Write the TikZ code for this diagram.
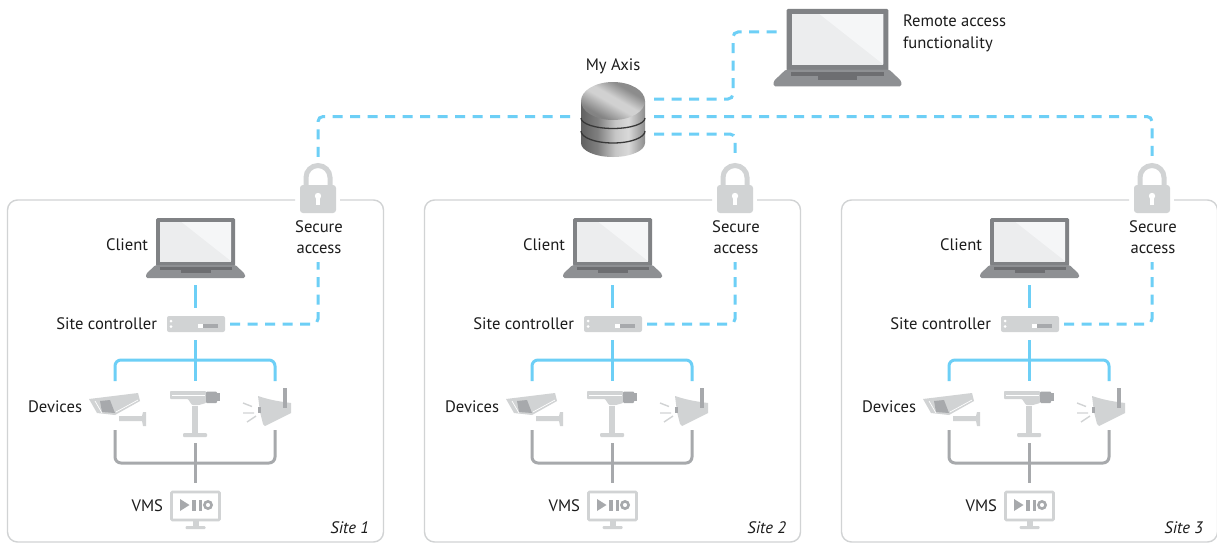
\documentclass[tikz,border=0pt]{standalone}
\usepackage{fontspec}
\setmainfont{PT Sans}
\usetikzlibrary{calc}
\definecolor{wireblue}{HTML}{6DCFF6}
\definecolor{wiregray}{HTML}{A7A9AC}
\definecolor{lightgray}{HTML}{D1D3D4}
\definecolor{lapframe}{HTML}{808285}
\definecolor{lapbase}{HTML}{8E9093}
\definecolor{lapdark}{HTML}{6D6E71}
\definecolor{screena}{HTML}{ECEDEE}
\definecolor{screenb}{HTML}{F5F6F7}
\definecolor{inkc}{HTML}{1C1C1C}
\pgfdeclarehorizontalshading{dbbody}{100bp}{color(0bp)=(black!70); color(25bp)=(black!62); color(38bp)=(black!50); color(52bp)=(black!22); color(62bp)=(black!15); color(75bp)=(black!45); color(90bp)=(black!72); color(100bp)=(black!82)}
\pgfdeclareverticalshading{dbtop}{100bp}{color(0bp)=(black!55); color(30bp)=(black!48); color(47bp)=(black!18); color(54bp)=(black!18); color(68bp)=(black!45); color(100bp)=(black!45)}
\tikzset{
  lbl/.style={font=\fontsize{16.6}{20}\selectfont,text=inkc,inner sep=0pt,outer sep=0pt},
  holder/.style={inner sep=0pt,outer sep=0pt,minimum width=#1},
  wire/.style={draw=wireblue,line width=3pt},
  dashwire/.style={draw=wireblue,line width=3pt,dash pattern=on 10pt off 7.5pt,rounded corners=5pt},
  greywire/.style={draw=wiregray,line width=3pt},
  laptop/.pic={
    \fill[lapframe,rounded corners=1.5pt] (-39.5,-47) rectangle (39.5,1);
    \fill[screena] (-35.5,-43) rectangle (35.5,-3.5);
    \fill[screenb] (-14,-43) -- (35.5,-43) -- (35.5,-4) -- cycle;
    \fill[lapbase,rounded corners=1.5pt] (-40,0) -- (40,0) -- (49.5,9) -- (49.5,13) -- (-49.5,13) -- (-49.5,9) -- cycle;
    \fill[lapdark] (-36,2) rectangle (36,5);
    \fill[lapdark] (-15,5) rectangle (15,8);
  },
  controller/.pic={
    \fill[lightgray,rounded corners=2pt] (-29,-8) rectangle (29,8);
    \fill[white] (-25,-3) circle (1.5) (-25,2.5) circle (1.5);
    \fill[white] (2,0) rectangle (7,4);
    \fill[wiregray] (7,0) rectangle (22,4);
  },
  padlock/.pic={
    \draw[lightgray,line width=5pt] (-12,8) -- (-12,-10.5) arc[start angle=180,end angle=360,x radius=12,y radius=12] -- (12,8);
    \fill[lightgray,rounded corners=3pt] (-18,-3) rectangle (18,25);
    \fill[white] (0,8) circle (3.2);
    \fill[white] (-1.6,8) rectangle (1.6,17);
  },
  cambox/.pic={
    % wall camera, origin at (115,410)
    \fill[lightgray] (-26,-11) -- (23,-17) -- (25,-9) -- (0,5) -- (-18,3) -- cycle;
    \draw[white,line width=0.7pt] (1,2) -- (23,-10);
    \draw[white,line width=0.7pt] (-20,-9) -- (-13,3);
    \fill[wiregray] (-15,-9) -- (-5,-10) -- (0,3) -- (-13,2) -- cycle;
    \fill[lightgray] (4,6) -- (27,6) -- (28,2) -- (31,2) -- (31,16) -- (28,16) -- (27,11) -- (4,11) -- cycle;
  },
  camstand/.pic={
    % camera on a stand, origin at (195,414)
    \fill[lightgray,rounded corners=0.8pt] (-25,-23) -- (11,-23) -- (11,-11) -- (4,-9) -- (-3,-9) -- (-7,-15) -- (-25,-15) -- cycle;
    \draw[white,line width=0.6pt] (-23,-19) -- (10,-19);
    \fill[wiregray,rounded corners=1pt] (11,-22.5) rectangle (22,-11);
    \fill[wiregray] (22,-21) rectangle (25,-13.5);
    \fill[lightgray] (-3,-8) rectangle (3,20);
    \fill[lightgray,rounded corners=1pt] (-12,19) rectangle (12,23);
  },
  horn/.pic={
    % horn speaker, origin at (275,410)
    \fill[lightgray] (-17,-14) .. controls (-8,-11) and (0,-9) .. (16,-7) -- (16,3) -- (-10,16) -- (-12,14) -- (-15,2) -- cycle;
    \fill[wiregray] (8,-22) rectangle (12,-2);
    \fill[wiregray] (-17,-3) rectangle (-14.5,3);
    \draw[lightgray,line width=1.4pt] (-32,-7) -- (-23,-3.5) (-32,3) -- (-21,3) (-28,12) -- (-19,6);
  },
  monitor/.pic={
    % VMS monitor, origin at screen centre (195.5,505)
    \draw[lightgray,line width=2.6pt,rounded corners=1pt] (-24,-13) rectangle (24,15);
    \fill[lightgray] (-3,15) rectangle (3,22);
    \fill[lightgray,rounded corners=1pt] (-10,21) rectangle (10,24);
    \fill[wiregray] (-15.5,-6) -- (-6,0) -- (-15.5,6) -- cycle;
    \fill[wiregray] (-3.5,-5.5) rectangle (0,5.5);
    \fill[wiregray] (3,-5.5) rectangle (6.5,5.5);
    \draw[wiregray,line width=2.6pt] (12.5,0) circle (3.6);
  },
}
\begin{document}
\begin{tikzpicture}[x=1pt,y=-1pt]
\useasboundingbox (0,0) rectangle (1217,543);
\fill[white] (0,0) rectangle (1217,543);
\foreach \i/\ox in {1/0,2/417,3/834}{
\begin{scope}[xshift=\ox pt]
  \draw[lightgray,line width=1.4pt,rounded corners=10pt] (340,200) -- (383.5,200) -- (383.5,542) -- (7.5,542) -- (7.5,200) -- (295,200);
  \pic at (195.5,265) {laptop};
  \pic at (196,324) {controller};
  \pic at (115,410) {cambox};
  \pic at (195,414) {camstand};
  \pic at (275,410) {horn};
  \pic at (195.5,505) {monitor};
  \pic at (318,188) {padlock};
  \node[holder=99pt,minimum height=60pt] (client\i) at (195,248) {};
  \node[holder=58pt,minimum height=16pt] (ctrl\i) at (195,324) {};
  \node[holder=60pt,minimum height=41pt] (dev\i a) at (115,409.5) {};
  \node[holder=50pt,minimum height=50pt] (dev\i b) at (195,414) {};
  \node[holder=50pt,minimum height=41pt] (dev\i c) at (275,409.5) {};
  \node[holder=50pt,minimum height=38pt] (vms\i) at (195,510) {};
  \node[holder=36pt,minimum height=50pt] (lock\i) at (318,188) {};
  \coordinate (busb\i) at (195,360);
  \coordinate (busc\i) at (195,463);
  \coordinate (secin\i) at (318,262);
  \draw[wire,shorten <=7pt,shorten >=8pt] (client\i.south) -- (ctrl\i.north);
  \draw[wire,shorten <=8pt,shorten >=8pt] (ctrl\i.south) -- (dev\i b.north);
  \draw[wire,rounded corners=6pt,shorten <=8pt,shorten >=8pt] (dev\i a.north) |- (busb\i) -| (dev\i c.north);
  \draw[greywire,rounded corners=6pt] (dev\i a.south) |- (busc\i) -| (dev\i c.south);
  \draw[greywire,shorten <=4pt,shorten >=8pt] (dev\i b.south) -- (vms\i.north);
  \draw[dashwire,shorten <=6pt] (ctrl\i.east) -| (secin\i);
  \node[lbl,anchor=east] (lclient\i) at (148,245) {Client};
  \node[lbl,anchor=east] (lctrl\i) at (157,324) {Site controller};
  \node[lbl,anchor=east] (ldev\i) at (82,407) {Devices};
  \node[lbl,anchor=east] (lvms\i) at (163,506) {VMS};
  \node[lbl] (lsec\i a) at (319,227) {Secure};
  \node[lbl] (lsec\i b) at (319,249) {access};
  \node[lbl,anchor=east,font=\fontsize{16.6}{20}\selectfont\itshape] (lsite\i) at (369,528) {Site \i};
\end{scope}
}
% My Axis database
\shade[shading=dbbody] (581,101) -- (581,143) arc[start angle=180,end angle=0,x radius=32,y radius=14] -- (645,101) -- cycle;
\draw[black!78,line width=1.3pt] (581,118) arc[start angle=180,end angle=0,x radius=32,y radius=10.5];
\draw[black!78,line width=1.3pt] (581,131) arc[start angle=180,end angle=0,x radius=32,y radius=12];
\shade[shading=dbtop,shading angle=-30] (613,101) ellipse[x radius=32,y radius=19];
\node[holder=64pt,minimum height=78pt] (db) at (613,116.5) {};
\node[lbl] (laxis) at (613,66) {My Axis};
% Remote laptop
\pic[scale=1.29] at (837.5,69.5) {laptop};
\node[holder=128pt,minimum height=78pt] (remote) at (837,47) {};
\coordinate (rbend) at (733,32);
\coordinate (rin) at (780,32);
\node[lbl,anchor=west] (lrem1) at (903,21) {Remote access};
\node[lbl,anchor=west] (lrem2) at (903,44) {functionality};
% Connections to My Axis
\draw[dashwire,shorten <=9pt] ([yshift=17.5pt]db.east) -| (rbend) -- (rin);
\draw[dashwire,shorten <=9pt,shorten >=6pt] (db.east) -| (lock3.north);
\draw[dashwire,shorten <=9pt,shorten >=6pt] ([yshift=-17.5pt]db.east) -| (lock2.north);
\draw[dashwire,shorten <=11pt,shorten >=6pt] (db.west) -| (lock1.north);
\end{tikzpicture}
\end{document}
